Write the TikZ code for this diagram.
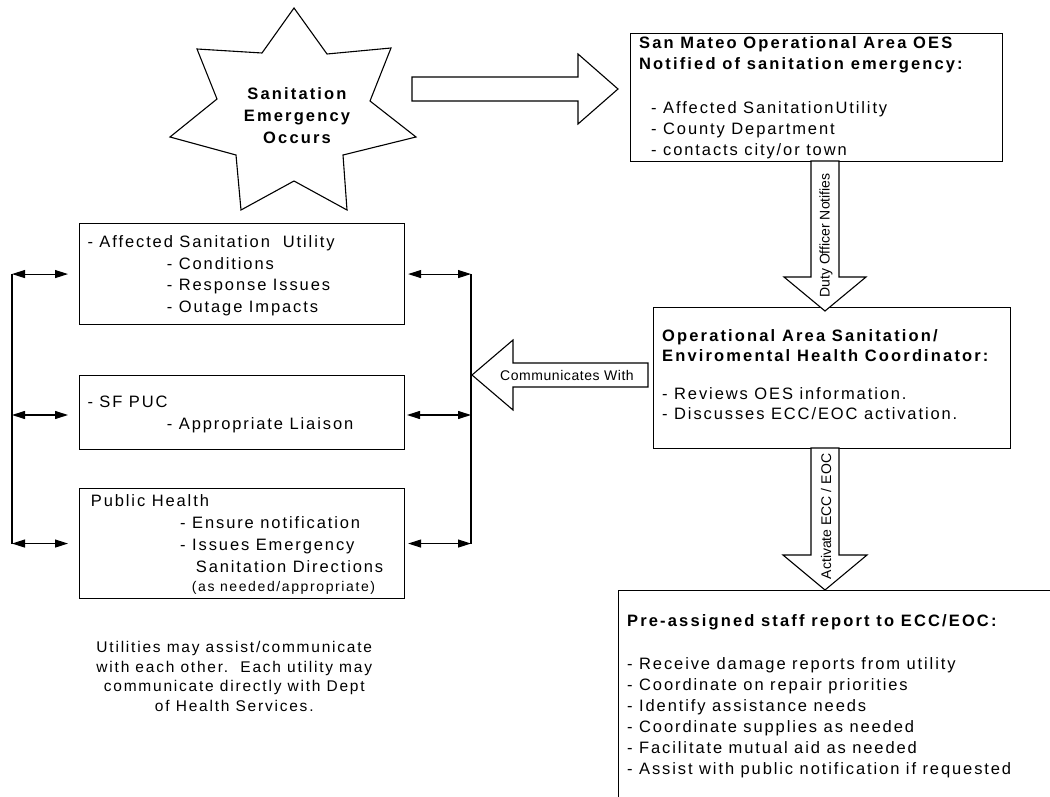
\documentclass[tikz,border=0pt]{standalone}
\usepackage{fontspec}
\setmainfont{Liberation Sans}[LetterSpace=11.5, BoldFeatures={LetterSpace=13}]
\newfontfamily\tightfont{Liberation Sans}
\newfontfamily\labelfont[LetterSpace=4]{Liberation Sans}
\usetikzlibrary{arrows.meta}

\begin{document}
\begin{tikzpicture}[x=1pt, y=-1pt,
  outline/.style={draw=black, line width=1.1pt, line join=miter},
  box/.style={outline, rectangle, inner sep=0pt, anchor=north west},
  body/.style={inner sep=0pt, anchor=base west, align=left,
    font=\fontsize{16.5}{21}\selectfont},
  block/.style={outline, fill=white},
  tie/.style={line width=1.1pt,
    {Triangle[length=13pt,width=8pt]}-{Triangle[length=13pt,width=8pt]}},
  bus/.style={line width=1.1pt},
  tag/.style={inner sep=0pt, font=\tightfont\fontsize{14}{16}\selectfont},
]
\useasboundingbox (0,0) rectangle (1050,797);
\fill[white] (0,0) rectangle (1050,797);
\clip (0,0) rectangle (1050,797);

% ---------- the emergency star ----------
\draw[outline] (294,8) -- (327,54) -- (391,48) -- (370,101) -- (416,137)
  -- (343,155) -- (347,210) -- (294,181) -- (241,210) -- (236,155)
  -- (170,137) -- (217,99) -- (197,49) -- (262,53) -- cycle;
% multi-line nodes: the base anchor sits on the last line
\node[inner sep=0pt, anchor=base, align=center,
  font=\bfseries\fontsize{16.5}{21.7}\selectfont] (event) at (297,143.3)
  {Sanitation\\Emergency\\Occurs};

% ---------- boxes ----------
\node[box, minimum width=372pt, minimum height=128pt] (oes) at (630,33) {};
\node[box, minimum width=357pt, minimum height=141pt] (coord) at (653,307) {};
\node[box, minimum width=450pt, minimum height=230pt] (staff) at (618,590) {};
\node[box, minimum width=325pt, minimum height=101pt] (utility) at (79,223) {};
\node[box, minimum width=325pt, minimum height=74pt] (puc) at (79,375) {};
\node[box, minimum width=325pt, minimum height=110pt] (health) at (79,488) {};

% ---------- box texts ----------
\node[body] (oestext) at (639,156)
  {\textbf{San Mateo Operational Area OES}\\
   \textbf{Notified of sanitation emergency:}\\[23pt]
   \hspace*{12pt}- Affected SanitationUtility\\
   \hspace*{12pt}- County Department\\
   \hspace*{12pt}- contacts city/or town};

\node[body, font=\fontsize{16.5}{20}\selectfont] (coordtext) at (662,419)
  {\textbf{Operational Area Sanitation/}\\
   \textbf{Enviromental Health Coordinator:}\\[18pt]
   - Reviews OES information.\\
   - Discusses ECC/EOC activation.};

\node[body] (stafftext) at (627,774)
  {\textbf{Pre-assigned staff report to ECC/EOC:}\\[22pt]
   - Receive damage reports from utility\\
   - Coordinate on repair priorities\\
   - Identify assistance needs\\
   - Coordinate supplies as needed\\
   - Facilitate mutual aid as needed\\
   - Assist with public notification if requested};

\node[body, font=\fontsize{16.5}{21.7}\selectfont] (utilitytext) at (87.3,312.4)
  {- Affected Sanitation\ \ Utility\\
   \hspace*{79.4pt}- Conditions\\
   \hspace*{79.4pt}- Response Issues\\
   \hspace*{79.4pt}- Outage Impacts};

\node[body, font=\fontsize{16.5}{22}\selectfont] (puctext) at (87.3,429.3)
  {- SF PUC\\
   \hspace*{79.4pt}- Appropriate Liaison};

\node[body, font=\fontsize{16.5}{22}\selectfont] (healthtext) at (90.7,591.7)
  {Public Health\\
   \hspace*{89.3pt}- Ensure notification\\
   \hspace*{89.3pt}- Issues Emergency\\
   \hspace*{105pt}Sanitation Directions\\[-3pt]
   \hspace*{101pt}{\fontsize{14}{16}\selectfont (as needed/appropriate)}};

\node[inner sep=0pt, anchor=base, align=center,
  font=\fontsize{15.5}{19.7}\selectfont] (note) at (234.3,711.5)
  {Utilities may assist/communicate\\
   with each other.\ \ Each utility may\\
   communicate directly with Dept\\
   of Health Services.};

% ---------- block arrows ----------
\draw[block] (412,77) -- (578,77) -- (578,54) -- (618,89) -- (578,124)
  -- (578,101) -- (412,101) -- cycle;
\draw[block] (811,161) -- (811,277) -- (784,277) -- (825,311) -- (866,277)
  -- (839,277) -- (839,161) -- cycle;
\draw[block] (811,448) -- (811,555) -- (783,555) -- (825,590) -- (867,555)
  -- (839,555) -- (839,448) -- cycle;
\draw[block] (648,363) -- (513,363) -- (513,340) -- (472,375) -- (513,410)
  -- (513,387) -- (648,387) -- cycle;

\node[tag, rotate=90] (duty) at (826,235.5) {Duty Officer Notifies};
\node[tag, rotate=90] (activate) at (826,516.5) {Activate ECC / EOC};
\node[tag, anchor=base east, font=\labelfont\fontsize{14}{16}\selectfont] (comm)
  at (634,380) {Communicates With};

% ---------- side links between the utility boxes ----------
\coordinate (lbus) at (12,0);
\coordinate (rbus) at (471,0);
\coordinate (pucmid) at (79,415);
\coordinate (pucmidR) at (404,415);

\draw[bus] (utility.west -| lbus) -- (health.west -| lbus);
\draw[bus] (utility.east -| rbus) -- (health.east -| rbus);

\draw[tie] (utility.west -| lbus) -- ([xshift=-11pt]utility.west);
\draw[tie] (pucmid -| lbus) -- ([xshift=-11pt]pucmid);
\draw[tie] (health.west -| lbus) -- ([xshift=-11pt]health.west);

\draw[tie] ([xshift=3pt]utility.east) -- (utility.east -| rbus);
\draw[tie] ([xshift=3pt]pucmidR) -- (pucmidR -| rbus);
\draw[tie] ([xshift=3pt]health.east) -- (health.east -| rbus);
\end{tikzpicture}
\end{document}
